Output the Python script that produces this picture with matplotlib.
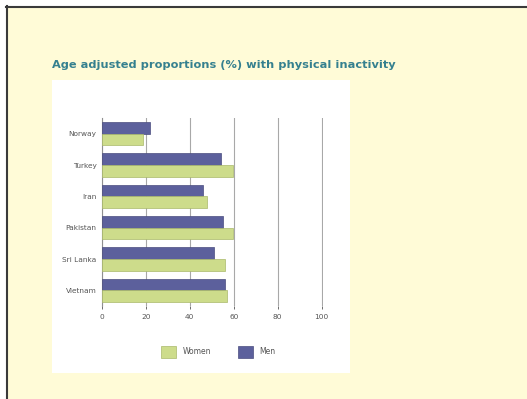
import matplotlib.pyplot as plt
import numpy as np
from matplotlib.patches import Rectangle
from matplotlib.lines import Line2D

countries = ["Norway", "Turkey", "Iran", "Pakistan", "Sri Lanka", "Vietnam"]
men = [22, 54, 46, 55, 51, 56]
women = [18.5, 59.5, 48, 59.5, 56, 57]
xticks = [0, 20, 40, 60, 80, 100]

W, H = 527, 399
fig = plt.figure(figsize=(W / 100, H / 100), dpi=100)
fig.patch.set_facecolor("white")

# slide background with dark frame on top and left
fig.patches.append(Rectangle((7 / W, 0), 1, 1 - 7 / H, transform=fig.transFigure,
                             facecolor="#fffbd7", edgecolor="none", zorder=0))
fig.lines.append(Line2D([6.5 / W, 6.5 / W], [0, 1 - 6 / H], transform=fig.transFigure,
                        color="#3a3a3a", lw=1.5))
fig.lines.append(Line2D([6 / W, 1], [1 - 6.5 / H, 1 - 6.5 / H], transform=fig.transFigure,
                        color="#3a3a3a", lw=1.5))

# white chart panel
fig.patches.append(Rectangle((52 / W, 1 - 373 / H), 298 / W, 293 / H,
                             transform=fig.transFigure, facecolor="white",
                             edgecolor="none", zorder=1))

fig.text(52 / W, 1 - 65 / H, "Age adjusted proportions (%) with physical inactivity",
         color="#35808f", fontsize=8.2, fontweight="semibold", va="center", ha="left")

ax = fig.add_axes([102 / W, 1 - 306 / H, 221 / W, 188 / H])
ax.set_facecolor("white")
ax.set_zorder(2)

y = np.arange(len(countries))
h = 0.37
ax.barh(y - h / 2, men, height=h, color="#5c609c", edgecolor="#4a4d7e", lw=0.5,
        label="Men", zorder=3)
ax.barh(y + h / 2, women, height=h, color="#cddc8b", edgecolor="#a9b86a", lw=0.5,
        label="Women", zorder=3)

ax.set_xlim(0, 100.6)
ax.set_ylim(len(countries) - 0.5, -0.5)
ax.set_xticks(xticks)
ax.set_xticklabels([str(t) for t in xticks])
ax.set_yticks(y)
ax.set_yticklabels(countries)
ax.grid(axis="x", color="#a8a8a8", lw=0.8, zorder=0)
ax.tick_params(axis="both", labelsize=5.3, colors="#555555", length=2, width=0.6)
ax.tick_params(axis="y", length=0, pad=4)
for s in ["top", "right", "bottom"]:
    ax.spines[s].set_visible(False)
ax.spines["left"].set_color("#909090")
ax.spines["left"].set_linewidth(0.8)

handles, labels = ax.get_legend_handles_labels()
fig.legend(handles[::-1], labels[::-1], loc="center", ncol=2,
           bbox_to_anchor=(218 / W, 1 - 352 / H), frameon=False, fontsize=5.5,
           labelcolor="#555555", handlelength=2.0, handleheight=2.0,
           columnspacing=3.5, handletextpad=0.8)

fig.savefig("out.png", dpi=100)
